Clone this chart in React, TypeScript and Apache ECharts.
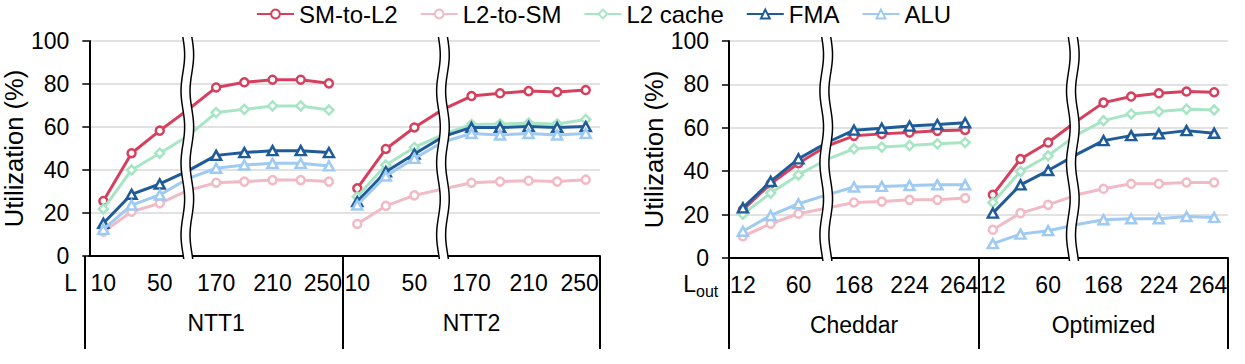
import React, { useEffect, useRef } from "react";
import * as echarts from "echarts";

const FONT = '"Liberation Sans", Arial, sans-serif';

// ---- categories / labels ----
const seriesNames = ["SM-to-L2", "L2-to-SM", "L2 cache", "FMA", "ALU"];
const nttCategories = ["10", "30", "50", "90", "170", "190", "210", "230", "250"];
const loutCategories = ["12", "36", "60", "112", "168", "196", "224", "244", "264"];
const groupNames = ["NTT1", "NTT2", "Cheddar", "Optimized"];
const yTicks = [0, 20, 40, 60, 80, 100];

// ---- values (index 3 lies under the axis break) ----
const ntt1SmToL2 = [25.6, 47.8, 58.3, 68.0, 78.4, 80.8, 82.0, 82.0, 80.3];
const ntt1L2ToSm = [11.3, 20.6, 24.5, 30.5, 34.1, 34.6, 35.3, 35.3, 34.6];
const ntt1L2Cache = [21.9, 40.0, 47.8, 55.8, 66.7, 68.2, 69.8, 69.8, 67.9];
const ntt1Fma = [15.2, 28.7, 33.5, 39.6, 46.8, 48.1, 49.0, 49.0, 48.1];
const ntt1Alu = [12.4, 23.7, 28.4, 36.0, 40.8, 42.3, 43.1, 43.1, 41.9];

const ntt2SmToL2 = [31.5, 49.8, 59.8, 68.2, 74.4, 75.7, 76.7, 76.3, 77.2];
const ntt2L2ToSm = [14.9, 23.3, 28.2, 31.2, 34.1, 34.6, 35.0, 34.6, 35.5];
const ntt2L2Cache = [27.6, 42.3, 50.5, 56.5, 61.2, 61.4, 61.8, 61.4, 63.5];
const ntt2Fma = [25.3, 39.2, 47.4, 55.5, 59.8, 59.8, 60.2, 59.8, 60.2];
const ntt2Alu = [23.7, 37.2, 45.4, 53.0, 57.0, 56.3, 57.0, 56.3, 57.0];

const cheddarSmToL2 = [22.2, 34.2, 43.7, 51.5, 56.3, 57.2, 57.8, 58.6, 59.0];
const cheddarL2ToSm = [10.0, 15.8, 20.4, 22.9, 25.6, 26.0, 26.8, 26.8, 27.6];
const cheddarL2Cache = [20.2, 29.9, 38.3, 45.3, 50.3, 51.1, 51.8, 52.6, 53.2];
const cheddarFma = [23.1, 35.3, 45.7, 53.0, 58.9, 59.8, 60.8, 61.5, 62.3];
const cheddarAlu = [12.3, 19.6, 25.0, 29.0, 32.7, 33.0, 33.4, 33.7, 33.7];

const optSmToL2 = [29.1, 45.6, 53.2, 62.8, 71.6, 74.4, 75.9, 76.7, 76.4];
const optL2ToSm = [13.0, 20.7, 24.5, 29.0, 31.9, 34.2, 34.2, 34.8, 34.8];
const optL2Cache = [25.6, 39.9, 47.1, 56.5, 63.3, 66.4, 67.5, 68.6, 68.2];
const optFma = [20.7, 33.7, 40.3, 47.5, 54.1, 56.4, 57.2, 58.7, 57.5];
const optAlu = [6.6, 11.0, 12.6, 15.3, 17.6, 18.1, 18.1, 19.1, 18.7];

const groupValues = [
  [ntt1SmToL2, ntt1L2ToSm, ntt1L2Cache, ntt1Fma, ntt1Alu],
  [ntt2SmToL2, ntt2L2ToSm, ntt2L2Cache, ntt2Fma, ntt2Alu],
  [cheddarSmToL2, cheddarL2ToSm, cheddarL2Cache, cheddarFma, cheddarAlu],
  [optSmToL2, optL2ToSm, optL2Cache, optFma, optAlu],
];
const groupCategories = [nttCategories, nttCategories, loutCategories, loutCategories];

// ---- styles ----
const colors = ["#D6405E", "#F2BAC5", "#A8E5C5", "#1F5B99", "#9FCAF2"];
const symbols = ["circle", "circle", "diamond", "triangle", "triangle"];
const symbolSizes: any[] = [8, 8, 9, [10, 9], [10, 9]];
const BREAK_INDEX = 3;

const grids = [
  { left: 85, top: 41, width: 258, height: 215 },
  { left: 343, top: 41, width: 257, height: 215 },
  { left: 729, top: 41, width: 250, height: 217 },
  { left: 979, top: 41, width: 249, height: 217 },
];
const breakShift = [2, 0, 0, -3];
const DIVIDER_BOTTOM = 349;

function wavePoints(x0: number, y0: number, y1: number) {
  const pts: number[][] = [];
  for (let y = y0; y <= y1 + 0.01; y += 2) {
    pts.push([x0 + 1.8 * Math.sin(((y - y0) / 72) * 2 * Math.PI), y]);
  }
  return pts;
}

function buildBreak(g: { left: number; top: number; width: number; height: number }, shift: number) {
  const c = g.left + (g.width * (BREAK_INDEX + 0.5)) / 9 + shift;
  const y0 = g.top - 4;
  const y1 = g.top + g.height + 4;
  const leftW = wavePoints(c - 4.5, y0, y1);
  const rightW = wavePoints(c + 4.5, y0, y1);
  const poly = leftW.concat(rightW.slice().reverse());
  return [
    { type: "polygon", z: 100, shape: { points: poly }, style: { fill: "#fff", stroke: null } },
    { type: "polyline", z: 101, shape: { points: leftW, smooth: 0.3 }, style: { stroke: "#000", lineWidth: 1.5, fill: null } },
    { type: "polyline", z: 101, shape: { points: rightW, smooth: 0.3 }, style: { stroke: "#000", lineWidth: 1.5, fill: null } },
  ];
}

function buildOption() {
  const series: any[] = [];
  groupValues.forEach((vals, g) => {
    vals.forEach((arr, s) => {
      series.push({
        type: "line",
        name: seriesNames[s],
        xAxisIndex: g,
        yAxisIndex: g,
        symbol: symbols[s],
        symbolSize: symbolSizes[s],
        showAllSymbol: true,
        z: 2 + s,
        lineStyle: { color: colors[s], width: 3 },
        itemStyle: { color: "#fff", borderColor: colors[s], borderWidth: 2.5 },
        emphasis: { disabled: true },
        data: arr.map((v, i) => (i === BREAK_INDEX ? { value: v, symbol: "none" } : v)),
      });
    });
  });

  const graphic: any[] = [];
  grids.forEach((g, i) => graphic.push(...buildBreak(g, breakShift[i])));
  // dividers below the axes
  const panelEdges = [
    { xs: [grids[0].left, grids[1].left, grids[1].left + grids[1].width], y: grids[0].top + grids[0].height },
    { xs: [grids[2].left, grids[3].left, grids[3].left + grids[3].width], y: grids[2].top + grids[2].height },
  ];
  panelEdges.forEach((p) =>
    p.xs.forEach((x) =>
      graphic.push({
        type: "line",
        z: 50,
        shape: { x1: x, y1: p.y, x2: x, y2: DIVIDER_BOTTOM },
        style: { stroke: "#000", lineWidth: 2 },
      })
    )
  );
  graphic.push({
    type: "text",
    z: 50,
    x: 77,
    y: 283,
    style: { text: "L", fill: "#000", font: `23px ${FONT}`, align: "right", verticalAlign: "middle" },
  });
  graphic.push({
    type: "text",
    z: 50,
    x: 696,
    y: 284,
    style: { text: "L", fill: "#000", font: `23px ${FONT}`, align: "right", verticalAlign: "middle" },
  });
  graphic.push({
    type: "text",
    z: 50,
    x: 696,
    y: 291,
    style: { text: "out", fill: "#000", font: `16px ${FONT}`, align: "left", verticalAlign: "middle" },
  });

  const labelFont = { color: "#000", fontSize: 23, fontFamily: FONT };
  const xAxis = grids.map((_, g) => ({
    type: "category",
    gridIndex: g,
    data: groupCategories[g],
    boundaryGap: true,
    axisLine: { show: true, lineStyle: { color: "#000", width: 2 } },
    axisTick: { show: false },
    axisLabel: {
      interval: 1,
      ...labelFont,
      margin: 15,
      formatter: (val: string, idx: number) => (idx === groupCategories[g].length - 1 ? `{last|${val}}` : val),
      rich: { last: { ...labelFont, padding: [0, 12, 0, 0] } },
    },
    splitLine: { show: false },
    name: groupNames[g],
    nameLocation: "middle",
    nameGap: 55,
    nameTextStyle: { color: "#000", fontSize: 23, fontFamily: FONT },
  }));

  const yAxis = grids.map((_, g) => {
    const main = g === 0 || g === 2;
    return {
      type: "value",
      gridIndex: g,
      min: yTicks[0],
      max: yTicks[yTicks.length - 1],
      interval: 20,
      axisLine: { show: main, lineStyle: { color: "#000", width: 2 } },
      axisTick: { show: main, length: 7, lineStyle: { color: "#000", width: 1.5 } },
      axisLabel: { show: main, ...labelFont, margin: 20 },
      splitLine: { show: true, lineStyle: { color: "#D9D9D9", width: 1.5 } },
      name: main ? "Utilization (%)" : "",
      nameLocation: "middle",
      nameGap: 54,
      nameTextStyle: { color: "#000", fontSize: 25.5, fontFamily: FONT },
    };
  });

  return {
    animation: false,
    backgroundColor: "#fff",
    textStyle: { fontFamily: FONT },
    legend: {
      data: seriesNames,
      left: 256,
      top: 2,
      padding: 0,
      itemWidth: 37,
      itemHeight: 11,
      itemGap: 22,
      textStyle: { color: "#000", fontSize: 24, fontFamily: FONT },
    },
    grid: grids.map((g) => ({ ...g, containLabel: false })),
    xAxis,
    yAxis,
    series,
    graphic,
  };
}

export default function App() {
  const ref = useRef<HTMLDivElement>(null);
  useEffect(() => {
    const chart = echarts.init(ref.current!, null, { renderer: "svg" });
    chart.setOption(buildOption() as any);
    return () => chart.dispose();
  }, []);
  return (
    <div
      ref={ref}
      style={{ position: "absolute", left: 0, top: 0, width: 1245, height: 364, background: "#fff" }}
    />
  );
}
